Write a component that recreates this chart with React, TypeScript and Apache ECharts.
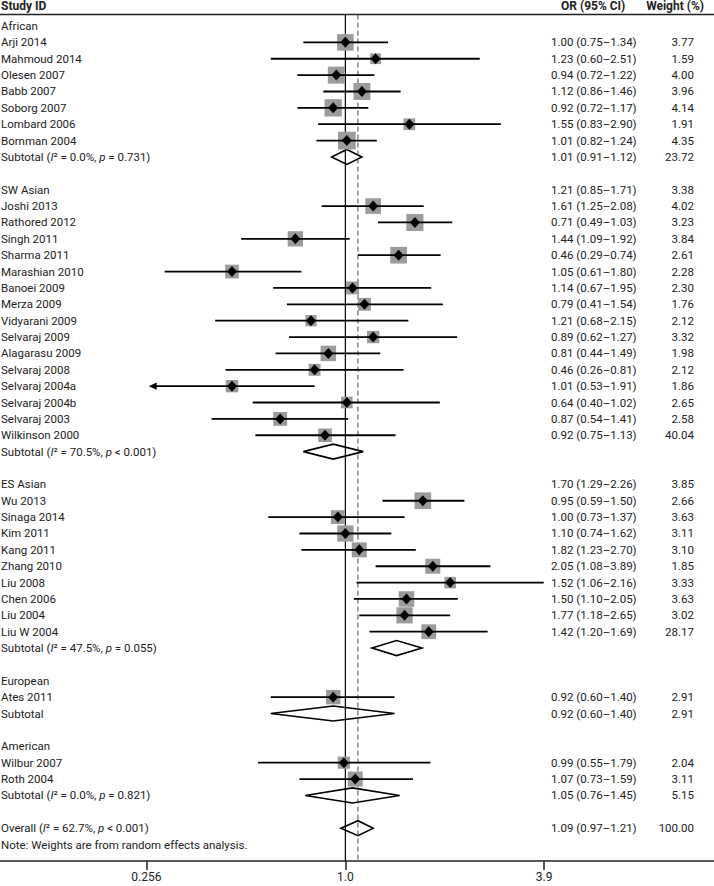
import React, { useEffect, useRef } from 'react';
import * as echarts from 'echarts';

// ---------- table text (one entry per row) ----------
const rowLabels: string[] = [
  'African', 'Arji 2014', 'Mahmoud 2014', 'Olesen 2007', 'Babb 2007', 'Soborg 2007', 'Lombard 2006', 'Bornman 2004',
  'Subtotal (I² = 0.0%, p = 0.731)', '',
  'SW Asian', 'Joshi 2013', 'Rathored 2012', 'Singh 2011', 'Sharma 2011', 'Marashian 2010', 'Banoei 2009', 'Merza 2009',
  'Vidyarani 2009', 'Selvaraj 2009', 'Alagarasu 2009', 'Selvaraj 2008', 'Selvaraj 2004a', 'Selvaraj 2004b', 'Selvaraj 2003',
  'Wilkinson 2000', 'Subtotal (I² = 70.5%, p < 0.001)', '',
  'ES Asian', 'Wu 2013', 'Sinaga 2014', 'Kim 2011', 'Kang 2011', 'Zhang 2010', 'Liu 2008', 'Chen 2006', 'Liu 2004', 'Liu W 2004',
  'Subtotal (I² = 47.5%, p = 0.055)', '',
  'European', 'Ates 2011', 'Subtotal', '',
  'American', 'Wilbur 2007', 'Roth 2004', 'Subtotal (I² = 0.0%, p = 0.821)', '',
  'Overall (I² = 62.7%, p < 0.001)', 'Note: Weights are from random effects analysis.',
];

const rowOR: string[] = [
  '', '1.00 (0.75–1.34)', '1.23 (0.60–2.51)', '0.94 (0.72–1.22)', '1.12 (0.86–1.46)', '0.92 (0.72–1.17)', '1.55 (0.83–2.90)', '1.01 (0.82–1.24)',
  '1.01 (0.91–1.12)', '',
  '1.21 (0.85–1.71)', '1.61 (1.25–2.08)', '0.71 (0.49–1.03)', '1.44 (1.09–1.92)', '0.46 (0.29–0.74)', '1.05 (0.61–1.80)', '1.14 (0.67–1.95)', '0.79 (0.41–1.54)',
  '1.21 (0.68–2.15)', '0.89 (0.62–1.27)', '0.81 (0.44–1.49)', '0.46 (0.26–0.81)', '1.01 (0.53–1.91)', '0.64 (0.40–1.02)', '0.87 (0.54–1.41)',
  '0.92 (0.75–1.13)', '', '',
  '1.70 (1.29–2.26)', '0.95 (0.59–1.50)', '1.00 (0.73–1.37)', '1.10 (0.74–1.62)', '1.82 (1.23–2.70)', '2.05 (1.08–3.89)', '1.52 (1.06–2.16)', '1.50 (1.10–2.05)', '1.77 (1.18–2.65)', '1.42 (1.20–1.69)',
  '', '',
  '', '0.92 (0.60–1.40)', '0.92 (0.60–1.40)', '',
  '', '0.99 (0.55–1.79)', '1.07 (0.73–1.59)', '1.05 (0.76–1.45)', '',
  '1.09 (0.97–1.21)', '',
];

const rowWeight: string[] = [
  '', '3.77', '1.59', '4.00', '3.96', '4.14', '1.91', '4.35', '23.72', '',
  '3.38', '4.02', '3.23', '3.84', '2.61', '2.28', '2.30', '1.76', '2.12', '3.32', '1.98', '2.12', '1.86', '2.65', '2.58', '40.04', '', '',
  '3.85', '2.66', '3.63', '3.11', '3.10', '1.85', '3.33', '3.63', '3.02', '28.17', '', '',
  '', '2.91', '2.91', '',
  '', '2.04', '3.11', '5.15', '',
  '100.00', '',
];

// ---------- study marks (as drawn) ----------
const markRows = [1, 2, 3, 4, 5, 6, 7, 11, 12, 13, 14, 15, 16, 17, 18, 19, 20, 21, 22, 23, 24, 25, 29, 30, 31, 32, 33, 34, 35, 36, 37, 41, 45, 46];
const markOR = [1.00, 1.23, 0.94, 1.12, 0.92, 1.55, 1.01, 1.21, 1.61, 0.71, 1.44, 0.46, 1.05, 1.14, 0.79, 1.21, 0.89, 0.81, 0.46, 1.01, 0.64, 0.87, 1.70, 0.95, 1.00, 1.10, 1.82, 2.05, 1.52, 1.50, 1.77, 0.92, 0.99, 1.07];
const markLo = [0.75, 0.60, 0.72, 0.86, 0.72, 0.83, 0.82, 0.85, 1.25, 0.49, 1.09, 0.29, 0.61, 0.67, 0.41, 0.68, 0.62, 0.44, 0.26, 0.53, 0.40, 0.54, 1.29, 0.59, 0.73, 0.74, 1.23, 1.08, 1.06, 1.10, 1.18, 0.60, 0.55, 0.73];
const markHi = [1.34, 2.51, 1.22, 1.46, 1.17, 2.90, 1.24, 1.71, 2.08, 1.03, 1.92, 0.74, 1.80, 1.95, 1.54, 2.15, 1.27, 1.49, 0.81, 1.91, 1.02, 1.41, 2.26, 1.50, 1.37, 1.62, 2.70, 3.89, 2.16, 2.05, 2.65, 1.40, 1.79, 1.59];
const markWeight = [3.77, 1.59, 4.00, 3.96, 4.14, 1.91, 4.35, 3.38, 4.02, 3.23, 3.84, 2.61, 2.28, 2.30, 1.76, 2.12, 3.32, 1.98, 2.12, 1.86, 2.65, 2.58, 3.85, 2.66, 3.63, 3.11, 3.10, 1.85, 3.33, 3.63, 3.02, 2.91, 2.04, 3.11];
const markTruncLeft = [0, 0, 0, 0, 0, 0, 0, 0, 0, 0, 0, 0, 0, 0, 0, 0, 0, 0, 1, 0, 0, 0, 0, 0, 0, 0, 0, 0, 0, 0, 0, 0, 0, 0];

// ---------- pooled estimates (diamonds) ----------
const poolRows = [8, 26, 38, 42, 47, 49];
const poolOR = [1.01, 0.92, 1.42, 0.92, 1.05, 1.09];
const poolLo = [0.91, 0.75, 1.20, 0.60, 0.76, 0.97];
const poolHi = [1.12, 1.13, 1.69, 1.40, 1.45, 1.21];

// ---------- axis ----------
const tickValues = [0.256, 1.0, 3.9];
const tickLabels = ['0.256', '1.0', '3.9'];
const refLineValues = [1.0, 1.09]; // null line, overall estimate
const axisMin = 0.0939; // OR at left page edge
const axisMax = 12.49; // OR at right page edge

const FONT = 'Roboto, "Noto Sans", sans-serif';
const TXT = '#222';
const FS = 11.5;

function toRich(s: string): string {
  const parts = s.split(/(I(?=²)|\bp(?= [=<]))/);
  return parts
    .map((p, k) => (p === '' ? '' : k % 2 === 1 ? `{i|${p}}` : `{n|${p}}`))
    .join('');
}

const richStyles = {
  n: { fontFamily: FONT, fontSize: FS, color: TXT },
  i: { fontFamily: FONT, fontSize: FS, color: TXT, fontStyle: 'italic' },
};

export default function App() {
  const ref = useRef<HTMLDivElement>(null);

  useEffect(() => {
    if (!ref.current) return;
    const chart = echarts.init(ref.current, undefined, { renderer: 'svg' });

    const option: any = {
      animation: false,
      backgroundColor: '#fff',
      grid: { left: 0, right: 0, top: 9.63, bottom: 25.1, outerBoundsMode: 'none' },
      xAxis: {
        type: 'log',
        logBase: 10,
        min: axisMin,
        max: axisMax,
        axisLine: { onZero: false, lineStyle: { color: TXT, width: 1.5 } },
        axisTick: { show: true, length: 9, customValues: tickValues, lineStyle: { color: TXT, width: 1.5 } },
        minorTick: { show: false },
        splitLine: { show: false },
        axisLabel: {
          margin: 10,
          color: TXT,
          fontSize: 12,
          fontFamily: FONT,
          customValues: tickValues,
          formatter: (v: number) => {
            for (let k = 0; k < tickValues.length; k++) {
              if (Math.abs(Math.log(v) - Math.log(tickValues[k])) < 0.01) return tickLabels[k];
            }
            return '';
          },
        },
      },
      yAxis: { type: 'value', inverse: true, min: -1, max: 51, show: false },
      graphic: [
        { type: 'text', left: 1, top: 0, style: { text: 'Study ID', fontFamily: FONT, fontSize: 12, fontWeight: 'bold', fill: TXT } },
        { type: 'text', left: 561, top: 0, style: { text: 'OR (95% CI)', fontFamily: FONT, fontSize: 12, fontWeight: 'bold', fill: TXT } },
        { type: 'text', right: 10, top: 0, style: { text: 'Weight (%)', fontFamily: FONT, fontSize: 12, fontWeight: 'bold', fill: TXT } },
        { type: 'line', shape: { x1: 0, y1: 14.5, x2: 714, y2: 14.5 }, style: { stroke: TXT, lineWidth: 1.5 } },
      ],
      series: [
        // pooled diamonds
        {
          type: 'custom',
          z: 2,
          data: poolRows.map((r, k) => [poolOR[k], r, poolLo[k], poolHi[k]]),
          encode: { x: [0, 2, 3], y: 1 },
          renderItem: (params: any, api: any) => {
            const y = api.value(1);
            const c = api.coord([api.value(0), y]);
            const lo = api.coord([api.value(2), y]);
            const hi = api.coord([api.value(3), y]);
            const h = 7.5;
            return {
              type: 'polygon',
              shape: { points: [[lo[0], c[1]], [c[0], c[1] - h], [hi[0], c[1]], [c[0], c[1] + h]] },
              style: { fill: '#fff', stroke: '#000', lineWidth: 1.6 },
            };
          },
        },
        // reference lines
        {
          type: 'custom',
          z: 3,
          data: refLineValues.map((v) => [v, -0.7, 51]),
          encode: { x: 0, y: [1, 2] },
          renderItem: (params: any, api: any) => {
            const a = api.coord([api.value(0), api.value(1)]);
            const b = api.coord([api.value(0), api.value(2)]);
            const dashed = params.dataIndex === 1;
            return {
              type: 'line',
              shape: { x1: a[0], y1: a[1], x2: b[0], y2: b[1] },
              style: dashed
                ? { stroke: '#444', lineWidth: 1, lineDash: [5, 3] }
                : { stroke: '#000', lineWidth: 1.2 },
            };
          },
        },
        // study marks
        {
          type: 'custom',
          z: 4,
          data: markRows.map((r, k) => [markOR[k], r, markLo[k], markHi[k], markWeight[k], markTruncLeft[k]]),
          encode: { x: [0, 2, 3], y: 1 },
          renderItem: (params: any, api: any) => {
            const y = api.value(1);
            const c = api.coord([api.value(0), y]);
            const lo = api.coord([api.value(2), y]);
            const hi = api.coord([api.value(3), y]);
            const side = 8.5 * Math.sqrt(api.value(4));
            const trunc = api.value(5) === 1;
            const children: any[] = [
              { type: 'rect', shape: { x: c[0] - side / 2, y: c[1] - side / 2, width: side, height: side }, style: { fill: '#9b9b9b' } },
              { type: 'line', shape: { x1: lo[0] + (trunc ? 6 : 0), y1: c[1], x2: hi[0], y2: c[1] }, style: { stroke: '#000', lineWidth: 1.8 } },
              { type: 'polygon', shape: { points: [[c[0] - 5, c[1]], [c[0], c[1] - 5.5], [c[0] + 5, c[1]], [c[0], c[1] + 5.5]] }, style: { fill: '#000' } },
            ];
            if (trunc) {
              children.push({
                type: 'polygon',
                shape: { points: [[lo[0], c[1]], [lo[0] + 8, c[1] - 3.6], [lo[0] + 8, c[1] + 3.6]] },
                style: { fill: '#000' },
              });
            }
            return { type: 'group', children };
          },
        },
        // table text
        {
          type: 'custom',
          z: 5,
          data: rowLabels.map((_, i) => [1, i]),
          encode: { x: 0, y: 1 },
          renderItem: (params: any, api: any) => {
            const i = params.dataIndex;
            const y = api.coord([1, api.value(1)])[1];
            const children: any[] = [];
            if (rowLabels[i]) {
              children.push({
                type: 'text',
                style: { text: toRich(rowLabels[i]), rich: richStyles, x: 1, y, align: 'left', verticalAlign: 'middle', fontFamily: FONT, fontSize: FS, fill: TXT },
              });
            }
            if (rowOR[i]) {
              children.push({
                type: 'text',
                style: { text: rowOR[i], x: 551, y, align: 'left', verticalAlign: 'middle', fontFamily: FONT, fontSize: FS, fill: TXT },
              });
            }
            if (rowWeight[i]) {
              children.push({
                type: 'text',
                style: { text: rowWeight[i], x: 694, y, align: 'right', verticalAlign: 'middle', fontFamily: FONT, fontSize: FS, fill: TXT },
              });
            }
            return { type: 'group', children };
          },
        },
      ],
    };

    chart.setOption(option);
    return () => chart.dispose();
  }, []);

  return (
    <div
      ref={ref}
      style={{ position: 'absolute', left: 0, top: 0, width: 714, height: 886, background: '#fff' }}
    />
  );
}
